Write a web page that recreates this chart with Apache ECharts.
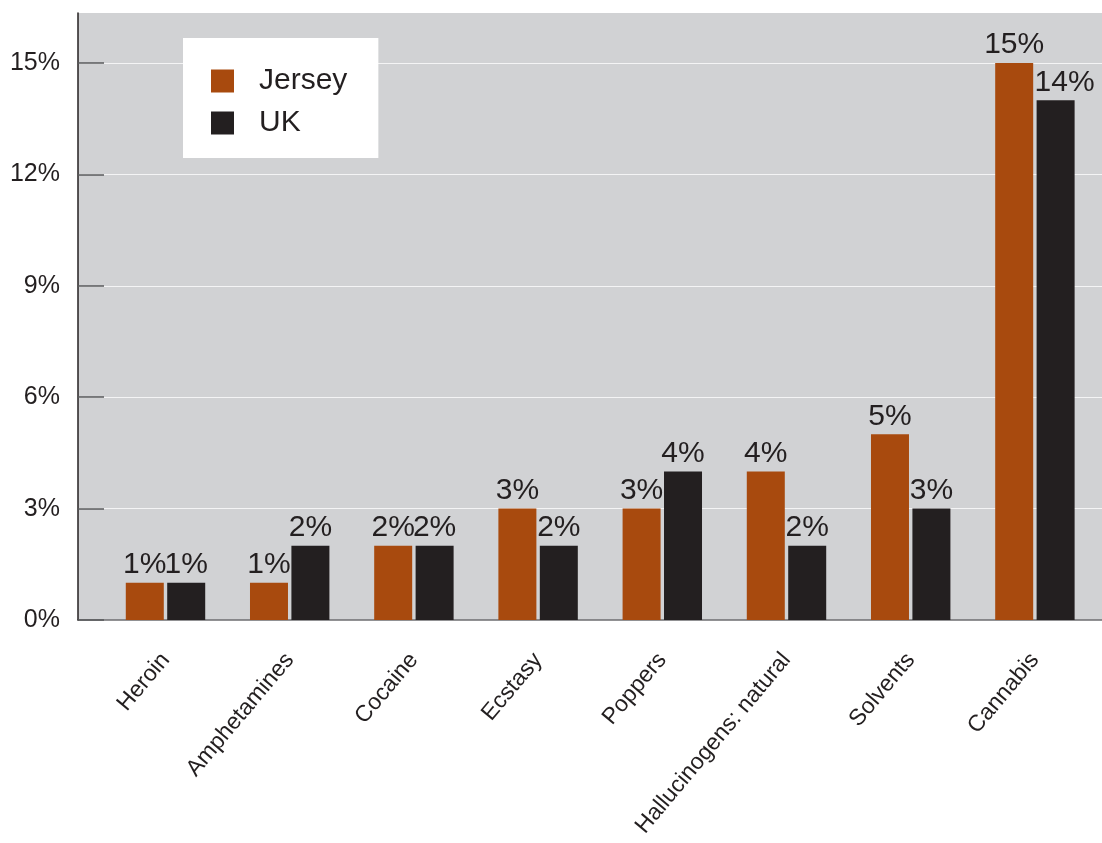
<!DOCTYPE html>
<html>
<head>
<meta charset="utf-8">
<script src="https://cdn.jsdelivr.net/npm/echarts@6/dist/echarts.min.js"></script>
<style>
  html, body { margin: 0; padding: 0; background: #ffffff; }
  #chart { width: 1102px; height: 843px; }
</style>
</head>
<body>
<div id="chart"></div>
<script>
// Drug use prevalence by substance, Jersey vs UK (percent)
const categories = ['Heroin', 'Amphetamines', 'Cocaine', 'Ecstasy', 'Poppers', 'Hallucinogens: natural', 'Solvents', 'Cannabis'];
const jersey = [1, 1, 2, 3, 3, 4, 5, 15];
const uk = [1, 2, 2, 2, 4, 2, 3, 14];
const seriesNames = ['Jersey', 'UK'];
const yTicks = [0, 3, 6, 9, 12, 15];

const FONT = 'Liberation Sans, Arial, Helvetica, sans-serif';
const TEXT = '#231f20';
const COLORS = ['#a84a0e', '#231f20'];
const Y_MAX = 16.35;

const chart = echarts.init(document.getElementById('chart'), null, { renderer: 'canvas' });

const valueLabel = {
  show: true,
  position: 'top',
  distance: 3,
  fontFamily: FONT,
  fontSize: 30,
  color: TEXT,
  formatter: p => p.value + '%'
};

// The tallest pair sits close together: nudge the second label right so it
// clears the neighbouring one.
const ukData = uk.map((v, i) =>
  i === uk.length - 1 ? { value: v, label: { offset: [9, 0] } } : v
);

chart.setOption({
  animation: false,
  textStyle: { fontFamily: FONT },
  grid: [
    // bars and category labels
    { left: 103.4, right: 5, top: 13, bottom: 223 },
    // full-width plot panel: background, gridlines, baseline
    { left: 78, right: 0, top: 13, bottom: 223, show: true, backgroundColor: '#d1d2d4', borderWidth: 0, z: -1 }
  ],
  legend: {
    data: seriesNames,
    orient: 'vertical',
    left: 183,
    top: 38,
    backgroundColor: '#ffffff',
    padding: [26, 31, 18, 28],
    itemWidth: 23,
    itemHeight: 23,
    itemGap: 8,
    icon: 'rect',
    z: 10,
    textStyle: { fontFamily: FONT, fontSize: 30, lineHeight: 34, color: TEXT, padding: [0, 0, 0, 20] }
  },
  xAxis: [
    {
      type: 'category',
      gridIndex: 0,
      data: categories,
      axisLine: { show: false },
      axisTick: { show: false },
      axisLabel: {
        rotate: 50,
        margin: 36,
        fontFamily: FONT,
        fontSize: 23,
        color: TEXT,
        interval: 0
      }
    },
    {
      type: 'value',
      gridIndex: 1,
      min: 0,
      max: 1,
      axisLine: { show: true, lineStyle: { color: '#6d6e70', width: 1.5 } },
      axisTick: { show: false },
      axisLabel: { show: false },
      splitLine: { show: false }
    }
  ],
  yAxis: [
    {
      type: 'value',
      gridIndex: 0,
      min: 0,
      max: Y_MAX,
      interval: 3,
      offset: 25.4,
      z: 5,
      axisLine: { show: true, lineStyle: { color: TEXT, width: 1.5 } },
      axisTick: { show: true, inside: true, length: 26, lineStyle: { color: '#58595b', width: 1.5 } },
      axisLabel: {
        showMaxLabel: false,
        margin: 18,
        fontFamily: FONT,
        fontSize: 25,
        color: TEXT,
        formatter: v => (yTicks.indexOf(v) >= 0 ? v + '%' : '')
      },
      splitLine: { show: false }
    },
    {
      type: 'value',
      gridIndex: 1,
      min: 0,
      max: Y_MAX,
      interval: 3,
      axisLine: { show: false },
      axisTick: { show: false },
      axisLabel: { show: false },
      splitLine: { show: true, showMinLine: false, showMaxLine: false, lineStyle: { color: '#f4f4f5', width: 1 } }
    }
  ],
  series: [
    {
      name: seriesNames[0],
      type: 'bar',
      data: jersey,
      barWidth: 38,
      barGap: '9%',
      itemStyle: { color: COLORS[0] },
      label: valueLabel
    },
    {
      name: seriesNames[1],
      type: 'bar',
      data: ukData,
      barWidth: 38,
      barGap: '9%',
      itemStyle: { color: COLORS[1] },
      label: valueLabel
    }
  ]
});
</script>
</body>
</html>
